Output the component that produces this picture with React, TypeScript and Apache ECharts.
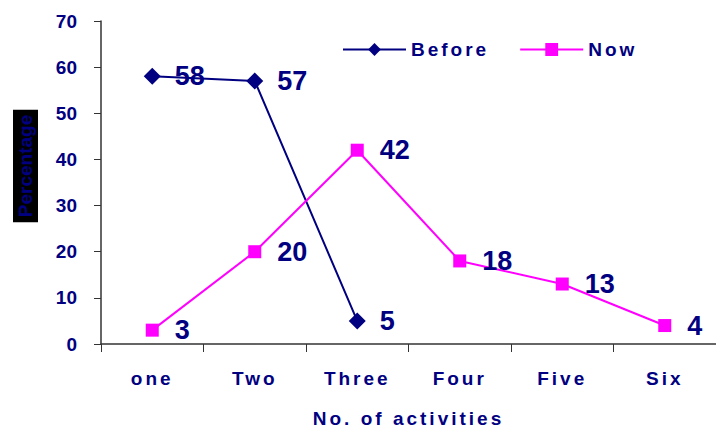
import React, { useEffect, useRef } from "react";
import * as echarts from "echarts";

const categories = ["one", "Two", "Three", "Four", "Five", "Six"];
const beforeValues = [58, 57, 5];
const nowValues = [3, 20, 42, 18, 13, 4];
const seriesNames = ["Before", "Now"];
const xAxisTitle = "No. of activities";
const yAxisTitle = "Percentage";

const NAVY = "#000080";
const MAGENTA = "#FF00FF";
const FONT = "'Liberation Sans', Arial, sans-serif";

export default function App() {
  const ref = useRef<HTMLDivElement>(null);

  useEffect(() => {
    if (!ref.current) return;
    const el = ref.current;
    const chart = echarts.init(el, null, { renderer: "svg" });

    const beforeData = categories.map((_, i) => (i < beforeValues.length ? beforeValues[i] : null));

    chart.setOption({
      animation: false,
      backgroundColor: "#fff",
      grid: { left: 101, top: 21, bottom: 84, right: -9, containLabel: false },
      legend: {
        left: 337,
        top: 35,
        itemWidth: 63,
        itemHeight: 16,
        itemGap: 48,
        selectedMode: false,
        data: seriesNames,
        textStyle: { color: NAVY, fontWeight: "bold", fontSize: 19, fontFamily: FONT },
      },
      xAxis: {
        type: "category",
        data: categories,
        boundaryGap: true,
        axisLine: { lineStyle: { color: "#333", width: 1.5 } },
        axisTick: { show: true, length: 8, lineStyle: { color: "#333" } },
        axisLabel: { color: NAVY, fontWeight: "bold", fontSize: 19, fontFamily: FONT, margin: 25 },
        name: xAxisTitle,
        nameLocation: "middle",
        nameGap: 65,
        nameTextStyle: { color: NAVY, fontWeight: "bold", fontSize: 19, fontFamily: FONT },
      },
      yAxis: {
        type: "value",
        min: 0,
        max: 70,
        interval: 10,
        splitLine: { show: false },
        axisLine: { show: true, lineStyle: { color: "#333", width: 1.5 } },
        axisTick: { show: true, length: 7, lineStyle: { color: "#333" } },
        axisLabel: { color: NAVY, fontWeight: "bold", fontSize: 19, fontFamily: FONT, margin: 24 },
      },
      graphic: [
        {
          type: "text",
          x: 25.5,
          y: 166,
          rotation: Math.PI / 2,
          style: {
            text: yAxisTitle,
            fill: NAVY,
            font: `bold 19px ${FONT}`,
            align: "center",
            verticalAlign: "middle",
            backgroundColor: "#000",
            padding: [4, 5, 2, 5],
          },
        },
      ],
      series: [
        {
          name: seriesNames[0],
          type: "line",
          data: beforeData,
          connectNulls: false,
          symbol: "diamond",
          symbolSize: 17,
          lineStyle: { color: NAVY, width: 2 },
          itemStyle: { color: NAVY },
          label: {
            show: true,
            position: "right",
            distance: 14,
            color: NAVY,
            fontWeight: "bold",
            fontSize: 27,
            fontFamily: FONT,
          },
        },
        {
          name: seriesNames[1],
          type: "line",
          data: nowValues,
          symbol: "rect",
          symbolSize: 13,
          lineStyle: { color: MAGENTA, width: 2 },
          itemStyle: { color: MAGENTA },
          label: {
            show: true,
            position: "right",
            distance: 16,
            color: NAVY,
            fontWeight: "bold",
            fontSize: 27,
            fontFamily: FONT,
          },
        },
      ],
    });

    const spaced: Record<string, string> = {};
    categories.forEach((c) => (spaced[c] = "3"));
    seriesNames.forEach((c) => (spaced[c] = "3"));
    spaced[xAxisTitle] = "3";
    const applySpacing = () => {
      el.querySelectorAll("text").forEach((t) => {
        const s = (t.textContent || "").trim();
        if (spaced[s]) t.setAttribute("letter-spacing", spaced[s]);
      });
    };
    applySpacing();
    chart.on("finished", applySpacing);

    return () => {
      chart.dispose();
    };
  }, []);

  return (
    <div
      ref={ref}
      style={{ position: "fixed", left: 0, top: 0, width: 716, height: 433 }}
    />
  );
}
